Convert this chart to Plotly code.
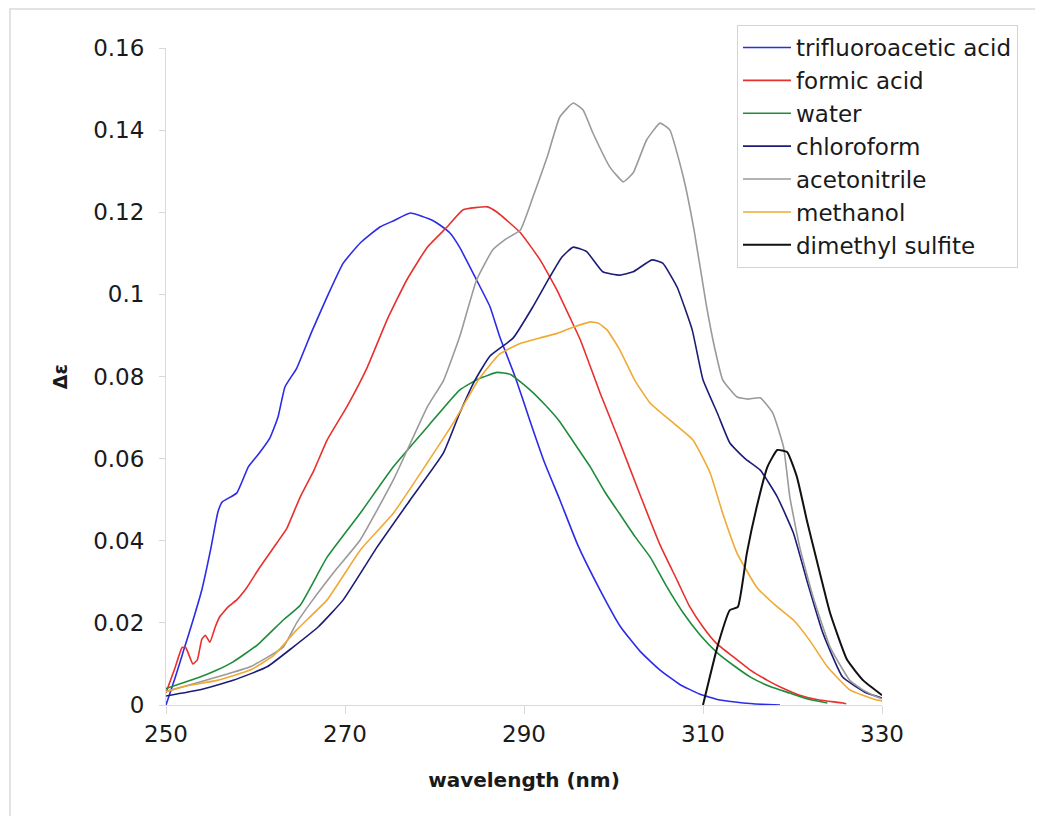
import plotly.graph_objects as go

# ---------------- data ----------------
tfa_x = [250, 251, 252, 253, 254, 255, 255.8, 256.3, 257.9, 259.2, 260.3, 261.6, 262.5, 263.3, 264.6,
         266.3, 268, 269.8, 271.7, 273.9, 275.5, 277.3, 279.8, 280.6, 281.7, 282.8, 284.7, 286.2, 287.3,
         289, 290.7, 292.3, 294, 296, 298.5, 300.8, 303, 305.2, 307.4, 309.6, 311.9, 314.5, 316.5, 318.6]
tfa_y = [0, 0.0065, 0.0135, 0.0205, 0.028, 0.038, 0.047, 0.0495, 0.0516, 0.058, 0.061, 0.065, 0.070,
         0.0775, 0.082, 0.091, 0.0994, 0.1076, 0.1125, 0.1164, 0.118, 0.1198, 0.118, 0.1169, 0.115,
         0.1115, 0.1035, 0.097, 0.0896, 0.080, 0.069, 0.059, 0.05, 0.039, 0.028, 0.019, 0.013, 0.0085,
         0.005, 0.0027, 0.0012, 0.0005, 0.0002, 0]

formic_x = [250, 251, 251.8, 252.2, 253, 253.5, 254, 254.4, 254.9, 255.5, 256, 257, 257.9, 259, 260.5,
            262.4, 263.5, 265, 266.5, 268, 270.2, 272.5, 274.7, 276.9, 279.2, 281.4, 283.2, 285.9, 287,
            289.6, 291.8, 293.7, 295.1, 296.3, 298.5, 300.7, 303, 305.2, 307.1, 308.5, 310, 311.5, 313.4,
            315.3, 317.2, 319, 320.8, 323, 325.6, 326]
formic_y = [0.003, 0.009, 0.014, 0.014, 0.010, 0.011, 0.016, 0.017, 0.0153, 0.019, 0.0215, 0.024, 0.0256,
            0.0285, 0.0336, 0.0395, 0.043, 0.0507, 0.057, 0.0645, 0.0726, 0.0823, 0.0938, 0.1035, 0.1115,
            0.1164, 0.1206, 0.1213, 0.12, 0.115, 0.1084, 0.101, 0.0945, 0.0889, 0.076, 0.064, 0.051, 0.039,
            0.0304, 0.024, 0.019, 0.015, 0.0117, 0.0085, 0.006, 0.004, 0.0024, 0.0012, 0.0005, 0.0003]

water_x = [250, 252, 253.8, 255.7, 257.5, 260.2, 263.1, 265, 268, 271.7, 275.4, 279.2, 282.8, 285, 287,
           288.5, 290.7, 292.4, 294, 295.7, 297.4, 299, 300.7, 302.4, 304.1, 305.9, 307.8, 309.7, 311.6,
           313.5, 315.3, 317.5, 319.7, 321.8, 323.9]
water_y = [0.004, 0.0055, 0.0068, 0.0085, 0.0105, 0.0146, 0.0207, 0.0243, 0.036, 0.0467, 0.058, 0.0677,
           0.0767, 0.0795, 0.081, 0.0805, 0.0767, 0.073, 0.069, 0.0635, 0.058, 0.052, 0.0465, 0.041, 0.036,
           0.029, 0.0224, 0.017, 0.0127, 0.0095, 0.0068, 0.0045, 0.0029, 0.0014, 0.0005]

chloro_x = [250, 253.8, 257.5, 261.3, 264.2, 267, 269.8, 273.6, 277.3, 281, 282.8, 284.5, 286.2, 288.8,
            291, 292.9, 294.2, 295.5, 297, 298.8, 300.7, 302.2, 304.3, 305.5, 307.1, 308.8, 310, 311.6,
            313, 314.7, 316.4, 318.3, 320.1, 321.6, 323.4, 325.6, 328.3, 330]
chloro_y = [0.0022, 0.0037, 0.006, 0.0093, 0.0141, 0.019, 0.0256, 0.0385, 0.05, 0.0614, 0.071, 0.079,
            0.085, 0.0894, 0.097, 0.1043, 0.109, 0.1115, 0.1104, 0.1055, 0.1047, 0.1055, 0.1084, 0.1076,
            0.1018, 0.0913, 0.0792, 0.0711, 0.0638, 0.060, 0.0572, 0.0507, 0.0419, 0.0304, 0.0175, 0.0068,
            0.0029, 0.0017]

acn_x = [250, 252, 255.7, 259.4, 263.1, 264.6, 266.4, 269, 271.7, 275.4, 279.2, 281, 282.8, 284.7, 286.5,
         288, 289.6, 291, 292.6, 294, 295.5, 296.6, 297.7, 299.6, 301.1, 302.2, 303.7, 305.2, 306.3, 307.8,
         309, 310.4, 311.3, 312.2, 313.8, 315, 316.4, 317.8, 319, 319.7, 320.8, 322.3, 324.2, 326.4, 328,
         329.4, 330]
acn_y = [0.0033, 0.0045, 0.0068, 0.0093, 0.0141, 0.020, 0.0256, 0.033, 0.0402, 0.0548, 0.0726, 0.079,
         0.0896, 0.1035, 0.1108, 0.1135, 0.1157, 0.1237, 0.1335, 0.1432, 0.1466, 0.1449, 0.1393, 0.131,
         0.1274, 0.1296, 0.1376, 0.1417, 0.14, 0.1286, 0.1157, 0.097, 0.087, 0.0792, 0.075, 0.0745, 0.0748,
         0.0711, 0.0628, 0.0507, 0.0385, 0.0263, 0.0141, 0.006, 0.0035, 0.002, 0.0015]

meoh_x = [250, 252, 255.7, 259.4, 262, 264.6, 268, 271.7, 275.4, 279.2, 282.1, 285, 287.3, 289.5, 291.8,
          293.7, 295.5, 297.4, 298.3, 299.3, 300.7, 302.4, 304.1, 306.3, 308.9, 310.8, 312.2, 313.8, 316,
          318.3, 320.1, 321.9, 323.9, 326.4, 329.4, 330]
meoh_y = [0.0032, 0.0045, 0.006, 0.0085, 0.012, 0.0183, 0.0256, 0.0377, 0.0467, 0.059, 0.0687, 0.0795,
          0.0855, 0.088, 0.0894, 0.0905, 0.092, 0.0933, 0.093, 0.0913, 0.0865, 0.079, 0.0735, 0.0694,
          0.0645, 0.0565, 0.0467, 0.037, 0.0287, 0.0239, 0.0207, 0.0158, 0.0093, 0.0037, 0.0012, 0.001]

dms_x = [310, 311.6, 313, 313.9, 314.9, 316, 317.2, 318.3, 319.4, 320.5, 321.6, 322.7, 324.2, 326.1,
         327.9, 330]
dms_y = [0, 0.0141, 0.0231, 0.0239, 0.037, 0.0482, 0.058, 0.0621, 0.0616, 0.0555, 0.045, 0.0353, 0.0224,
         0.011, 0.006, 0.0024]

names = ["trifluoroacetic acid", "formic acid", "water", "chloroform", "acetonitrile", "methanol",
         "dimethyl sulfite"]
colors = ["#2b2be8", "#e8302c", "#1e8c3a", "#1c1c78", "#9a9a9a", "#f0a935", "#111111"]

x_ticks = [250, 270, 290, 310, 330]
y_ticks = [0, 0.02, 0.04, 0.06, 0.08, 0.1, 0.12, 0.14, 0.16]
y_tick_text = ["0", "0.02", "0.04", "0.06", "0.08", "0.1", "0.12", "0.14", "0.16"]

series = [(tfa_x, tfa_y), (formic_x, formic_y), (water_x, water_y), (chloro_x, chloro_y),
          (acn_x, acn_y), (meoh_x, meoh_y), (dms_x, dms_y)]

# ---------------- figure ----------------
FONT = "DejaVu Sans"
fig = go.Figure()
for i, ((xs, ys), nm, col) in enumerate(zip(series, names, colors)):
    fig.add_trace(go.Scatter(
        x=xs, y=ys, mode="lines", name=nm, legendgroup=nm,
        line=dict(color=col, width=2.0 if i == 6 else 1.6, shape="spline", smoothing=0.4),
    ))

OFF = 8  # page body margin
W, H = 1043 - OFF, 816 - OFF
# target page coords: plot left 166, right 882, top 48, bottom 705
L, T = 166 - OFF, 48 - OFF
R = W - (882 - OFF)
B = H - (705 - OFF)
pw, ph = W - L - R, H - T - B


def px(xp):
    return (xp - OFF - L) / pw


def py(yp):
    return (H - B - (yp - OFF)) / ph


fig.update_layout(
    width=W, height=H,
    margin=dict(l=L, r=R, t=T, b=B, autoexpand=False),
    paper_bgcolor="white", plot_bgcolor="white",
    font=dict(family=FONT, size=22, color="#1a1a1a"),
    showlegend=True,
    legend=dict(
        x=px(737), y=py(25), xanchor="left", yanchor="top",
        bordercolor="#d4d4d4", borderwidth=1, bgcolor="white",
        font=dict(family=FONT, size=23, color="#1a1a1a"),
        tracegroupgap=0, itemwidth=48,
    ),
    xaxis=dict(
        range=[250, 330], tickvals=x_ticks, ticks="outside", ticklen=8, tickcolor="#d9d9d9",
        showline=True, linecolor="#d9d9d9", linewidth=1, showgrid=False, zeroline=False,
        tickfont=dict(family=FONT, size=23, color="#1a1a1a"), ticklabelstandoff=0,
        title=dict(text="<b>wavelength (nm)</b>", font=dict(family=FONT, size=20, color="#1a1a1a"),
                   standoff=27),
    ),
    yaxis=dict(
        range=[0, 0.16], tickvals=y_ticks, ticktext=y_tick_text, ticks="outside", ticklen=6,
        tickcolor="#d9d9d9", showline=True, linecolor="#d9d9d9", linewidth=1, showgrid=False,
        zeroline=False, tickfont=dict(family=FONT, size=23, color="#1a1a1a"), ticklabelstandoff=10,
        title=dict(text="<b>Δε</b>", font=dict(family=FONT, size=19, color="#1a1a1a"), standoff=20),
    ),
    shapes=[dict(type="rect", xref="paper", yref="paper",
                 x0=px(10), x1=px(1070), y0=py(840), y1=py(9),
                 line=dict(color="#d9d9d9", width=1.5), fillcolor="rgba(0,0,0,0)", layer="below")],
)

fig.write_html("out.html")
